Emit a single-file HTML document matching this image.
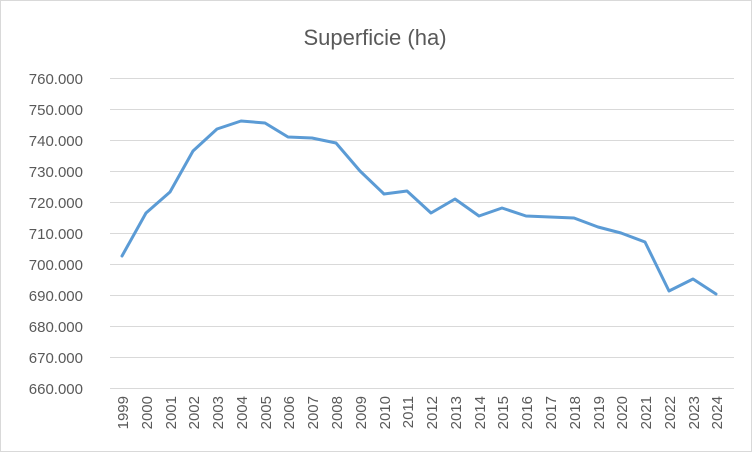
<!DOCTYPE html>
<html><head><style>body{margin:0;background:#fff}svg{display:block}</style></head><body>
<svg width="752" height="452" xmlns="http://www.w3.org/2000/svg" font-family="Liberation Sans, sans-serif">
<rect x="0.5" y="0.5" width="751" height="451" fill="#fff" stroke="#d9d9d9"/>
<text x="375" y="45" text-anchor="middle" font-size="22" fill="#595959">Superficie (ha)</text>
<g stroke="#d9d9d9" stroke-width="1">
<line x1="110" x2="734" y1="78.5" y2="78.5"/><line x1="110" x2="734" y1="109.5" y2="109.5"/>
<line x1="110" x2="734" y1="140.5" y2="140.5"/><line x1="110" x2="734" y1="171.5" y2="171.5"/>
<line x1="110" x2="734" y1="202.5" y2="202.5"/><line x1="110" x2="734" y1="233.5" y2="233.5"/>
<line x1="110" x2="734" y1="264.5" y2="264.5"/><line x1="110" x2="734" y1="295.5" y2="295.5"/>
<line x1="110" x2="734" y1="326.5" y2="326.5"/><line x1="110" x2="734" y1="357.5" y2="357.5"/>
<line x1="110" x2="734" y1="388.5" y2="388.5"/>
</g>
<g font-size="15" fill="#595959" text-anchor="end">
<text x="83" y="84">760.000</text><text x="83" y="115">750.000</text><text x="83" y="146">740.000</text>
<text x="83" y="177">730.000</text><text x="83" y="208">720.000</text><text x="83" y="239">710.000</text>
<text x="83" y="270">700.000</text><text x="83" y="301">690.000</text><text x="83" y="332">680.000</text>
<text x="83" y="363">670.000</text><text x="83" y="394">660.000</text>
</g>
<g font-size="15" fill="#595959" text-anchor="end">
<text transform="translate(128,396) rotate(-90)">1999</text>
<text transform="translate(152,396) rotate(-90)">2000</text>
<text transform="translate(176,396) rotate(-90)">2001</text>
<text transform="translate(199,396) rotate(-90)">2002</text>
<text transform="translate(223,396) rotate(-90)">2003</text>
<text transform="translate(247,396) rotate(-90)">2004</text>
<text transform="translate(271,396) rotate(-90)">2005</text>
<text transform="translate(294,396) rotate(-90)">2006</text>
<text transform="translate(318,396) rotate(-90)">2007</text>
<text transform="translate(342,396) rotate(-90)">2008</text>
<text transform="translate(366,396) rotate(-90)">2009</text>
<text transform="translate(390,396) rotate(-90)">2010</text>
<text transform="translate(413,396) rotate(-90)">2011</text>
<text transform="translate(437,396) rotate(-90)">2012</text>
<text transform="translate(461,396) rotate(-90)">2013</text>
<text transform="translate(485,396) rotate(-90)">2014</text>
<text transform="translate(508,396) rotate(-90)">2015</text>
<text transform="translate(532,396) rotate(-90)">2016</text>
<text transform="translate(556,396) rotate(-90)">2017</text>
<text transform="translate(580,396) rotate(-90)">2018</text>
<text transform="translate(604,396) rotate(-90)">2019</text>
<text transform="translate(627,396) rotate(-90)">2020</text>
<text transform="translate(651,396) rotate(-90)">2021</text>
<text transform="translate(675,396) rotate(-90)">2022</text>
<text transform="translate(699,396) rotate(-90)">2023</text>
<text transform="translate(722,396) rotate(-90)">2024</text>
</g>
<polyline fill="none" stroke="#5b9bd5" stroke-width="3" stroke-linejoin="round" stroke-linecap="round"
points="122,256 146,213 170,192 193,151 217,129 241,121 265,123 288,137 312,138 336,143 360,171 384,194 407,191 431,213 455,199 479,216 502,208 526,216 550,217 574,218 598,227 621,233 645,242 669,291 693,279 716,294"/>
</svg>
</body></html>
